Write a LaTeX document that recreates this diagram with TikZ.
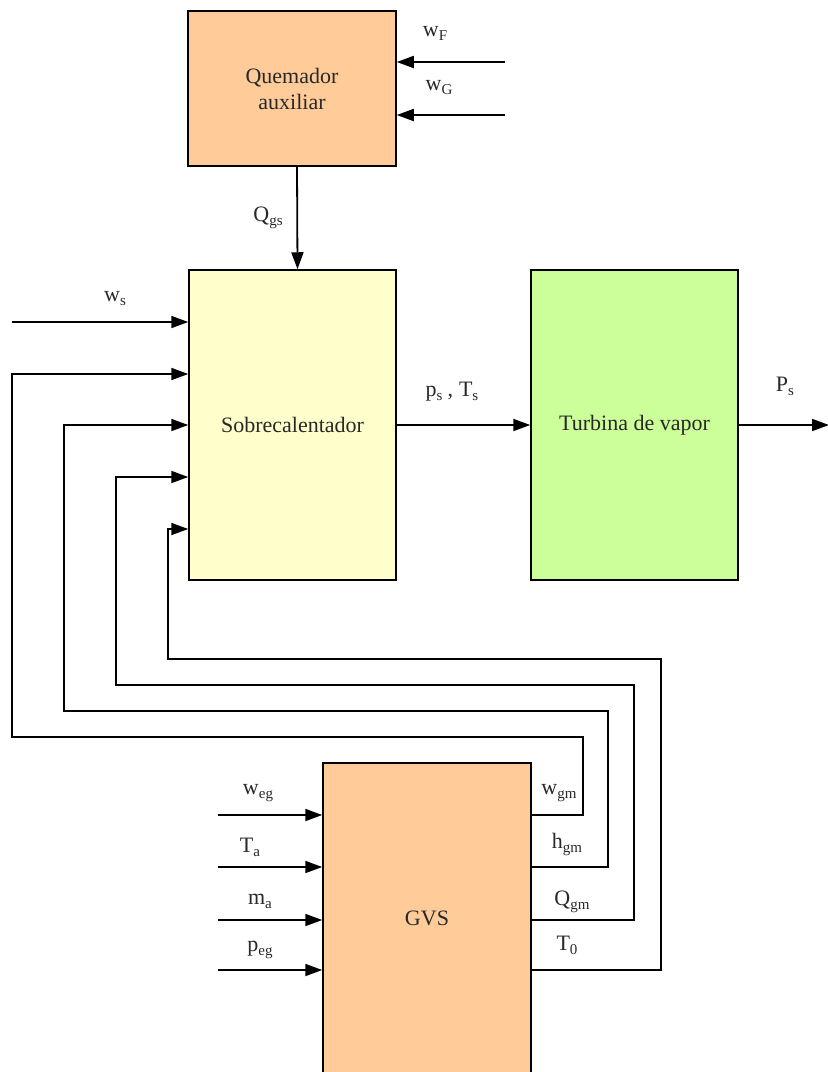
\documentclass[tikz,border=0pt]{standalone}
\usepackage{fontspec}
\setmainfont{Liberation Serif}
\usetikzlibrary{arrows.meta}
\definecolor{orangebox}{RGB}{255,204,153}
\definecolor{yellowbox}{RGB}{255,255,204}
\definecolor{greenbox}{RGB}{204,255,153}
\definecolor{txt}{RGB}{40,40,40}
\newcommand\lowsub[1]{\raisebox{-4pt}{\fontsize{15}{15}\selectfont #1}}
\begin{document}
\begin{tikzpicture}[x=1pt,y=-1pt,
  block/.style={draw, line width=1.5pt, minimum width=207pt, inner sep=0pt,
    font=\fontsize{22}{26}\selectfont, text=txt, align=center},
  lbl/.style={font=\fontsize{22}{24}\selectfont, text=txt, inner sep=0pt},
  flow/.style={line width=1.8pt, -{Triangle[length=17pt,width=12pt]}}]
\useasboundingbox (0,0) rectangle (828,1072);
% blocks
\node[block, fill=orangebox, minimum width=208pt, minimum height=155pt] (quem) at (292,88.5) {Quemador\\auxiliar};
\node[block, fill=yellowbox, minimum height=310pt] (sob) at (292.5,425) {Sobrecalentador};
\node[block, fill=greenbox, minimum height=310pt] (turb) at (634.5,425) {Turbina de vapor};
\node[block, fill=orangebox, minimum width=208pt, minimum height=320pt] (gvs) at (427,923) {};
\node[lbl] (gvst) at (427,918) {GVS};
% inputs to quemador
\coordinate (wF) at (505,62);
\coordinate (wG) at (505,115);
\draw[flow] (wF) -- (wF -| quem.east);
\draw[flow] (wG) -- (wG -| quem.east);
\node[lbl] (lwF) at (435,33) {w\lowsub{F}};
\node[lbl] (lwG) at (439,88) {w\lowsub{G}};
% Qgs
\draw[flow] ([xshift=5pt]quem.south) -- ([xshift=5pt]sob.north);
\node[lbl] (lQgs) at (268,218) {Q\lowsub{gs}};
% ws
\coordinate (ws) at (12,322);
\draw[flow] (ws) -- (ws -| sob.west);
\node[lbl] (lws) at (115,299) {w\lowsub{s}};
% ps Ts
\draw[flow] (sob.east) -- (turb.west);
\node[lbl] (lps) at (452,392) {p\lowsub{s}\hspace{5pt},\hspace{6pt}T\lowsub{s}};
% Ps
\coordinate (Pout) at (829,425);
\draw[flow] (turb.east) -- (Pout);
\node[lbl] (lPs) at (785,386) {P\lowsub{s}};
% GVS inputs
\coordinate (i1) at (218,815);
\coordinate (i2) at (218,867);
\coordinate (i3) at (218,920);
\coordinate (i4) at (218,970);
\draw[flow] (i1) -- (i1 -| gvs.west);
\draw[flow] (i2) -- (i2 -| gvs.west);
\draw[flow] (i3) -- (i3 -| gvs.west);
\draw[flow] (i4) -- (i4 -| gvs.west);
\node[lbl] (lweg) at (258,793) {w\lowsub{eg}};
\node[lbl] (lTa) at (250,847) {T\lowsub{a}};
\node[lbl] (lma) at (260,901) {m\lowsub{a}};
\node[lbl] (lpeg) at (260,950) {p\lowsub{eg}};
% GVS outputs / feedback
\coordinate (f1a) at (583,737); \coordinate (f1b) at (12,374);
\coordinate (f2a) at (608,711); \coordinate (f2b) at (64,425);
\coordinate (f3a) at (634,685); \coordinate (f3b) at (116,477);
\coordinate (f4a) at (661,659); \coordinate (f4b) at (168,529);
\draw[flow] (gvs.east |- i1) -| (f1a) -| (f1b) -- (f1b -| sob.west);
\draw[flow] (gvs.east |- i2) -| (f2a) -| (f2b) -- (f2b -| sob.west);
\draw[flow] (gvs.east |- i3) -| (f3a) -| (f3b) -- (f3b -| sob.west);
\draw[flow] (gvs.east |- i4) -| (f4a) -| (f4b) -- (f4b -| sob.west);
\node[lbl] (lwgm) at (559,793) {w\lowsub{gm}};
\node[lbl] (lhgm) at (567,844) {h\lowsub{gm}};
\node[lbl] (lQgm) at (572,902) {Q\lowsub{gm}};
\node[lbl] (lT0) at (567,945) {T\lowsub{0}};
\end{tikzpicture}
\end{document}
